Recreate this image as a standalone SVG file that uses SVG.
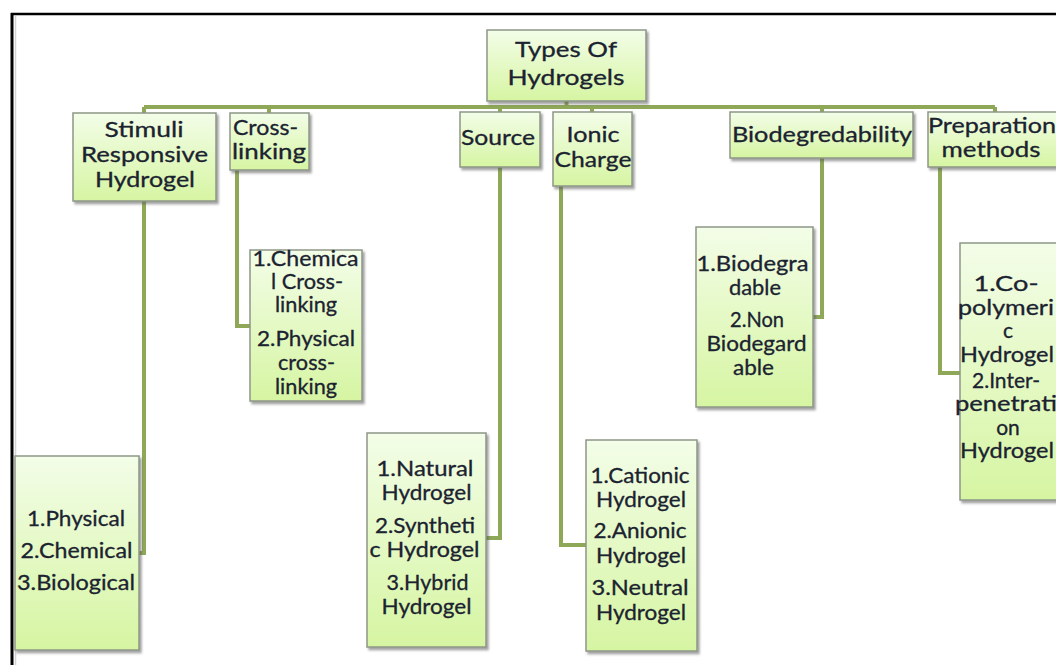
<svg xmlns="http://www.w3.org/2000/svg" width="1056" height="665" viewBox="0 0 1056 665">
<defs>
<linearGradient id="g" x1="0" y1="0" x2="0" y2="1">
<stop offset="0" stop-color="#f3fde8"/>
<stop offset="1" stop-color="#d6f5a2"/>
</linearGradient>
<filter id="sh" x="-10%" y="-10%" width="130%" height="130%">
<feDropShadow dx="2" dy="2.5" stdDeviation="1.3" flood-color="#555" flood-opacity="0.55"/>
</filter>
<style>
.box{fill:url(#g);stroke:#8e9688;stroke-width:1.5;filter:url(#sh)}
.t{font-family:Lato,"Open Sans","Liberation Sans",sans-serif;font-size:21px;fill:#1b2230;stroke:#1b2230;stroke-width:0.3px;text-anchor:middle}
.c{fill:none;stroke:#8ea858;stroke-width:4;stroke-linejoin:miter}
</style>
</defs>
<rect width="1056" height="665" fill="#fff"/>
<g id="frame">
<line x1="11" y1="14" x2="1056" y2="14" stroke="#000" stroke-width="2.5"/>
<line x1="12" y1="13" x2="12" y2="665" stroke="#000" stroke-width="3"/>
<line x1="15.5" y1="16" x2="15.5" y2="665" stroke="#d4d4d4" stroke-width="1.5"/>
</g>
<g id="connectors">
<path class="c" d="M566.5 101V107M144 107H995M144 107V113M269 107V113M500 107V112M592 107V112M822 107V112M995 107V112"/>
<path class="c" d="M144 201V553H139"/>
<path class="c" d="M237 170V326H250"/>
<path class="c" d="M500 167V538H486"/>
<path class="c" d="M561 186V545H586"/>
<path class="c" d="M822 158V317H812"/>
<path class="c" d="M940 167V373H960"/>
</g>
<g id="root">
<rect class="box" x="487" y="30" width="159" height="71"/>
<text class="t" x="566" y="57" textLength="102" lengthAdjust="spacingAndGlyphs">Types Of</text>
<text class="t" x="566" y="85" textLength="117" lengthAdjust="spacingAndGlyphs">Hydrogels</text>
</g>
<g id="stimuli">
<rect class="box" x="73" y="113" width="143" height="88"/>
<text class="t" x="144" y="137" textLength="79" lengthAdjust="spacingAndGlyphs">Stimuli</text>
<text class="t" x="144.5" y="162" textLength="127" lengthAdjust="spacingAndGlyphs">Responsive</text>
<text class="t" x="145" y="187" textLength="100" lengthAdjust="spacingAndGlyphs">Hydrogel</text>
</g>
<g id="crosslinking">
<rect class="box" x="230" y="113" width="79" height="57"/>
<text class="t" x="265.5" y="135" textLength="65" lengthAdjust="spacingAndGlyphs">Cross-</text>
<text class="t" x="269" y="159" textLength="74" lengthAdjust="spacingAndGlyphs">linking</text>
</g>
<g id="source">
<rect class="box" x="460" y="112" width="80" height="55"/>
<text class="t" x="498" y="145" textLength="74" lengthAdjust="spacingAndGlyphs">Source</text>
</g>
<g id="ionic">
<rect class="box" x="553" y="112" width="79" height="74"/>
<text class="t" x="593" y="142" textLength="53" lengthAdjust="spacingAndGlyphs">Ionic</text>
<text class="t" x="593" y="167" textLength="77" lengthAdjust="spacingAndGlyphs">Charge</text>
</g>
<g id="biodeg">
<rect class="box" x="730" y="112" width="183" height="46"/>
<text class="t" x="822" y="142" textLength="180" lengthAdjust="spacingAndGlyphs">Biodegredability</text>
</g>
<g id="preparation">
<rect class="box" x="928" y="112" width="132" height="55"/>
<text class="t" x="992" y="133" textLength="128" lengthAdjust="spacingAndGlyphs">Preparation</text>
<text class="t" x="991" y="157" textLength="99" lengthAdjust="spacingAndGlyphs">methods</text>
</g>
<g id="leaf-stimuli">
<rect class="box" x="15" y="456" width="124" height="194"/>
<text class="t" x="76" y="526" textLength="98" lengthAdjust="spacingAndGlyphs">1.Physical</text>
<text class="t" x="76.5" y="558" textLength="112" lengthAdjust="spacingAndGlyphs">2.Chemical</text>
<text class="t" x="76" y="590" textLength="118" lengthAdjust="spacingAndGlyphs">3.Biological</text>
</g>
<g id="leaf-crosslinking">
<rect class="box" x="250" y="250" width="112" height="151"/>
<text class="t" x="305.5" y="266" textLength="106" lengthAdjust="spacingAndGlyphs">1.Chemica</text>
<text class="t" x="307" y="289" textLength="72" lengthAdjust="spacingAndGlyphs">l Cross-</text>
<text class="t" x="306" y="312" textLength="62" lengthAdjust="spacingAndGlyphs">linking</text>
<text class="t" x="306" y="346" textLength="98" lengthAdjust="spacingAndGlyphs">2.Physical</text>
<text class="t" x="306.5" y="370" textLength="57" lengthAdjust="spacingAndGlyphs">cross-</text>
<text class="t" x="306" y="394" textLength="62" lengthAdjust="spacingAndGlyphs">linking</text>
</g>
<g id="leaf-source">
<rect class="box" x="367" y="433" width="119" height="214"/>
<text class="t" x="425" y="476" textLength="97" lengthAdjust="spacingAndGlyphs">1.Natural</text>
<text class="t" x="426.5" y="500" textLength="90" lengthAdjust="spacingAndGlyphs">Hydrogel</text>
<text class="t" x="425" y="533" textLength="100" lengthAdjust="spacingAndGlyphs">2.Syntheti</text>
<text class="t" x="424.5" y="557" textLength="110" lengthAdjust="spacingAndGlyphs">c Hydrogel</text>
<text class="t" x="427.5" y="590" textLength="82" lengthAdjust="spacingAndGlyphs">3.Hybrid</text>
<text class="t" x="426.5" y="614" textLength="90" lengthAdjust="spacingAndGlyphs">Hydrogel</text>
</g>
<g id="leaf-ionic">
<rect class="box" x="586" y="440" width="111" height="211"/>
<text class="t" x="640" y="483" textLength="99" lengthAdjust="spacingAndGlyphs">1.Cationic</text>
<text class="t" x="641" y="507" textLength="90" lengthAdjust="spacingAndGlyphs">Hydrogel</text>
<text class="t" x="640" y="538" textLength="93" lengthAdjust="spacingAndGlyphs">2.Anionic</text>
<text class="t" x="641" y="563" textLength="90" lengthAdjust="spacingAndGlyphs">Hydrogel</text>
<text class="t" x="640" y="595" textLength="97" lengthAdjust="spacingAndGlyphs">3.Neutral</text>
<text class="t" x="641" y="620" textLength="90" lengthAdjust="spacingAndGlyphs">Hydrogel</text>
</g>
<g id="leaf-biodeg">
<rect class="box" x="696" y="227" width="117" height="180"/>
<text class="t" x="752.5" y="271" textLength="112" lengthAdjust="spacingAndGlyphs">1.Biodegra</text>
<text class="t" x="755" y="295" textLength="52" lengthAdjust="spacingAndGlyphs">dable</text>
<text class="t" x="757" y="327" textLength="54" lengthAdjust="spacingAndGlyphs">2.Non</text>
<text class="t" x="756.5" y="351" textLength="100" lengthAdjust="spacingAndGlyphs">Biodegard</text>
<text class="t" x="753.5" y="375" textLength="41" lengthAdjust="spacingAndGlyphs">able</text>
</g>
<g id="leaf-preparation">
<rect class="box" x="960" y="243" width="100" height="257"/>
<text class="t" x="1006" y="291" textLength="65" lengthAdjust="spacingAndGlyphs">1.Co-</text>
<text class="t" x="1006" y="315" textLength="96" lengthAdjust="spacingAndGlyphs">polymeri</text>
<text class="t" x="1008" y="338">c</text>
<text class="t" x="1007" y="362" textLength="94" lengthAdjust="spacingAndGlyphs">Hydrogel</text>
<text class="t" x="1006" y="388" textLength="68" lengthAdjust="spacingAndGlyphs">2.Inter-</text>
<text class="t" x="1006" y="411" textLength="102" lengthAdjust="spacingAndGlyphs">penetrati</text>
<text class="t" x="1008" y="435">on</text>
<text class="t" x="1007" y="458" textLength="94" lengthAdjust="spacingAndGlyphs">Hydrogel</text>
</g>
</svg>
